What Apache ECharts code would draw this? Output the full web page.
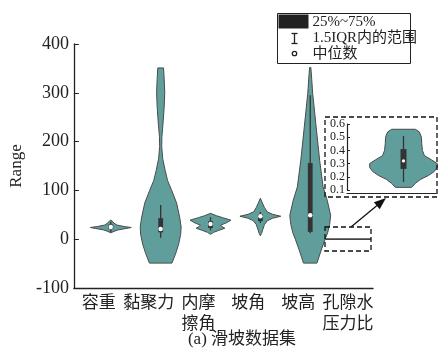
<!DOCTYPE html>
<html>
<head>
<meta charset="utf-8">
<script src="https://cdn.jsdelivr.net/npm/echarts@6/dist/echarts.min.js"></script>
<style>
  html, body { margin: 0; padding: 0; background: #fff; }
  #chart { width: 438px; height: 349px; }
</style>
</head>
<body>
<div id="chart"></div>
<script>
  // 类别
  var categories = ['容重', '黏聚力', '内摩\n擦角', '坡角', '坡高', '孔隙水\n压力比']
  var yTicks = [-100, 0, 100, 200, 300, 400]
  var insetTicks = [0.1, 0.2, 0.3, 0.4, 0.5, 0.6]

  // 小提琴轮廓 [取值, 相对半宽]
  var profRongzhong = [[13, 0], [16, 0.15], [19, 0.35], [22, 0.75], [24, 1], [26, 0.65], [29, 0.3], [33, 0.15], [36, 0.1], [39, 0]]
  var profNianjuli = [[-49, 0.55], [-30, 0.73], [-10, 0.88], [10, 0.98], [25, 1], [45, 0.93], [74, 0.78], [100, 0.54], [120, 0.34], [141, 0.22], [165, 0.1], [190, 0.05], [210, 0.06], [240, 0.12], [270, 0.17], [300, 0.2], [330, 0.17], [351, 0.14]]
  var profNeimocajiao = [[10, 0], [14, 0.15], [18, 0.4], [22.5, 0.7], [26, 0.55], [29, 0.5], [33, 0.75], [39, 1], [44, 0.6], [48, 0.3], [53, 0]]
  var profPojiao = [[7, 0], [12, 0.06], [20, 0.12], [30, 0.2], [38, 0.35], [43, 0.6], [47, 1], [51, 0.6], [56, 0.33], [65, 0.2], [74, 0.1], [84, 0]]
  var profPogao = [[-49, 0.33], [-22, 0.54], [0, 0.73], [13, 0.85], [30, 0.95], [49, 1], [80, 0.83], [107, 0.63], [162, 0.46], [230, 0.29], [299, 0.12], [330, 0.07], [352, 0.03]]
  var profKongxi = [[0.12, 0.24], [0.15, 0.35], [0.18, 0.5], [0.21, 0.74], [0.24, 0.91], [0.27, 1], [0.30, 1], [0.33, 0.82], [0.36, 0.62], [0.40, 0.56], [0.45, 0.54], [0.50, 0.53], [0.54, 0.47], [0.56, 0.35]]
  var profiles = [profRongzhong, profNianjuli, profNeimocajiao, profPojiao, profPogao, profKongxi]

  // 箱线统计
  var q1 = [21, 14, 23, 37, 15, 0.26]
  var q3 = [30, 43, 37, 51, 156, 0.41]
  var medians = [25, 21, 31, 47, 49, 0.32]
  var whiskerLow = [15, 3, 18, 33, 12, 0.16]
  var whiskerHigh = [36, 70, 45, 56, 295, 0.51]

  var serif = "'Liberation Serif', 'Noto Sans CJK SC', serif"
  var violinColor = '#609e9c'
  var edgeColor = '#4a4a4a'
  var boxColor = '#333'

  /** 小提琴绘制 */
  function makeViolin(maxHalf, shiftPx, boxHalf, dotR, withBox) {
    return function (params, api) {
      var idx = api.value(0)
      var k = api.value(2)
      var prof = profiles[k]
      var band = api.size([1, 0])[0]
      var cx = api.coord([idx, 0])[0] + shiftPx(k)
      var hw = band * maxHalf(k)
      var left = []
      var right = []
      prof.forEach(function (p) {
        var y = api.coord([idx, p[0]])[1]
        right.push([cx + p[1] * hw, y])
        left.unshift([cx - p[1] * hw, y])
      })
      var yTop = api.coord([idx, prof[prof.length - 1][0]])[1]
      var yBot = api.coord([idx, prof[0][0]])[1]
      var children = []
      if (yBot - yTop < 2) {
        // 数值范围太小，压成一条线
        children.push({
          type: 'line',
          shape: { x1: cx - hw, y1: (yTop + yBot) / 2, x2: cx + hw, y2: (yTop + yBot) / 2 },
          style: { stroke: '#444', lineWidth: 1.8 }
        })
      } else {
        children.push({
          type: 'polygon',
          shape: { points: right.concat(left) },
          style: { fill: violinColor, stroke: edgeColor, lineWidth: 1 }
        })
      }
      if (withBox(k)) {
        var yl = api.coord([idx, whiskerLow[k]])[1]
        var yh = api.coord([idx, whiskerHigh[k]])[1]
        var yq1 = api.coord([idx, q1[k]])[1]
        var yq3 = api.coord([idx, q3[k]])[1]
        var ym = api.coord([idx, medians[k]])[1]
        children.push({
          type: 'line',
          shape: { x1: cx, y1: yl, x2: cx, y2: yh },
          style: { stroke: boxColor, lineWidth: 1.3 }
        })
        children.push({
          type: 'rect',
          shape: { x: cx - boxHalf, y: yq3, width: boxHalf * 2, height: yq1 - yq3 },
          style: { fill: boxColor }
        })
        children.push({
          type: 'circle',
          shape: { cx: cx, cy: ym, r: dotR },
          style: { fill: '#fff' }
        })
      }
      return { type: 'group', children: children }
    }
  }

  var mainData = [[0, 0, 0], [1, 0, 1], [2, 0, 2], [3, 0, 3], [4, 0, 4], [5, 0.3, 5]]
  var insetData = [[0, 0.3, 5]]

  var chart = echarts.init(document.getElementById('chart'))
  chart.setOption({
    animation: false,
    grid: [
      { left: 72, right: 65, top: 44, bottom: 61 },
      { left: 347, right: 2, top: 124, bottom: 159 }
    ],
    xAxis: [
      {
        type: 'category',
        gridIndex: 0,
        data: categories,
        axisLine: { onZero: false, lineStyle: { color: '#222', width: 1.3 } },
        axisTick: { inside: true, alignWithLabel: true, length: 5, lineStyle: { color: '#222' } },
        axisLabel: { color: '#222', fontFamily: serif, fontSize: 17, lineHeight: 21, margin: 5, interval: 0 }
      },
      {
        type: 'category',
        gridIndex: 1,
        data: ['孔隙水压力比'],
        offset: 3,
        axisLine: { onZero: false, lineStyle: { color: '#222', width: 1.2 } },
        axisTick: { show: false },
        axisLabel: { show: false }
      }
    ],
    yAxis: [
      {
        type: 'value',
        gridIndex: 0,
        min: yTicks[0],
        max: yTicks[yTicks.length - 1],
        interval: 100,
        name: 'Range',
        nameLocation: 'middle',
        nameGap: 47,
        nameTextStyle: { color: '#222', fontFamily: serif, fontSize: 17 },
        splitLine: { show: false },
        axisLine: { show: true, lineStyle: { color: '#222', width: 1.3 } },
        axisTick: { show: true, inside: true, length: 5, lineStyle: { color: '#222' } },
        axisLabel: { color: '#222', fontFamily: serif, fontSize: 18, margin: 5 }
      },
      {
        type: 'value',
        gridIndex: 1,
        min: insetTicks[0],
        max: insetTicks[insetTicks.length - 1],
        interval: 0.1,
        splitLine: { show: false },
        axisLine: { show: true, lineStyle: { color: '#222', width: 1.2 } },
        axisTick: { show: true, inside: true, length: 3, lineStyle: { color: '#222' } },
        axisLabel: { color: '#222', fontFamily: serif, fontSize: 12, margin: 2, formatter: function (v) { return v.toFixed(1) } }
      }
    ],
    series: [
      {
        type: 'custom',
        xAxisIndex: 0,
        yAxisIndex: 0,
        encode: { x: 0, y: 1 },
        data: mainData,
        z: 3,
        renderItem: makeViolin(
          function (k) { return k === 5 ? 0.46 : 0.41 },
          function (k) { return k === 5 ? 0 : 12 },
          2.4, 2.2,
          function (k) { return k !== 5 }
        )
      },
      {
        type: 'custom',
        xAxisIndex: 1,
        yAxisIndex: 1,
        encode: { x: 0, y: 1 },
        data: insetData,
        z: 3,
        renderItem: makeViolin(
          function () { return 0.38 },
          function () { return 12 },
          3, 1.6,
          function () { return true }
        )
      }
    ],
    graphic: [
      // 放大框
      {
        type: 'rect',
        shape: { x: 325, y: 117, width: 112, height: 80 },
        style: { fill: 'none', stroke: '#111', lineWidth: 1.3, lineDash: [5, 3] },
        z: 5
      },
      {
        type: 'rect',
        shape: { x: 325, y: 227, width: 46, height: 24 },
        style: { fill: 'none', stroke: '#111', lineWidth: 1.3, lineDash: [5, 3] },
        z: 5
      },
      // 箭头
      {
        type: 'line',
        shape: { x1: 351, y1: 227, x2: 377, y2: 205.5 },
        style: { stroke: '#111', lineWidth: 1.3 },
        z: 5
      },
      {
        type: 'polygon',
        shape: { points: [[386, 198], [379.7, 209.2], [373.9, 202.2]] },
        style: { fill: '#111' },
        z: 5
      },
      // 图例
      {
        type: 'group',
        left: 277,
        top: 13,
        z: 6,
        children: [
          { type: 'rect', shape: { x: 0, y: 0, width: 133, height: 50 }, style: { fill: '#fff', stroke: '#222', lineWidth: 1 } },
          { type: 'rect', shape: { x: 1, y: 1, width: 30, height: 14 }, style: { fill: '#222' } },
          { type: 'line', shape: { x1: 17, y1: 20, x2: 17, y2: 30 }, style: { stroke: '#222', lineWidth: 1.3 } },
          { type: 'line', shape: { x1: 14, y1: 20, x2: 20, y2: 20 }, style: { stroke: '#222', lineWidth: 1.3 } },
          { type: 'line', shape: { x1: 14, y1: 30, x2: 20, y2: 30 }, style: { stroke: '#222', lineWidth: 1.3 } },
          { type: 'circle', shape: { cx: 17, cy: 40, r: 2.2 }, style: { fill: '#fff', stroke: '#222', lineWidth: 1.3 } },
          { type: 'text', x: 35, y: 9, style: { text: '25%~75%', font: '15px ' + serif, fill: '#222', verticalAlign: 'middle' } },
          { type: 'text', x: 35, y: 25, style: { text: '1.5IQR内的范围', font: '15px ' + serif, fill: '#222', verticalAlign: 'middle' } },
          { type: 'text', x: 35, y: 41, style: { text: '中位数', font: '15px ' + serif, fill: '#222', verticalAlign: 'middle' } }
        ]
      },
      // 子图标题
      {
        type: 'text',
        x: 242,
        y: 340,
        style: { text: '(a) 滑坡数据集', font: '17px ' + serif, fill: '#222', align: 'center', verticalAlign: 'middle' }
      }
    ]
  })
</script>
</body>
</html>
